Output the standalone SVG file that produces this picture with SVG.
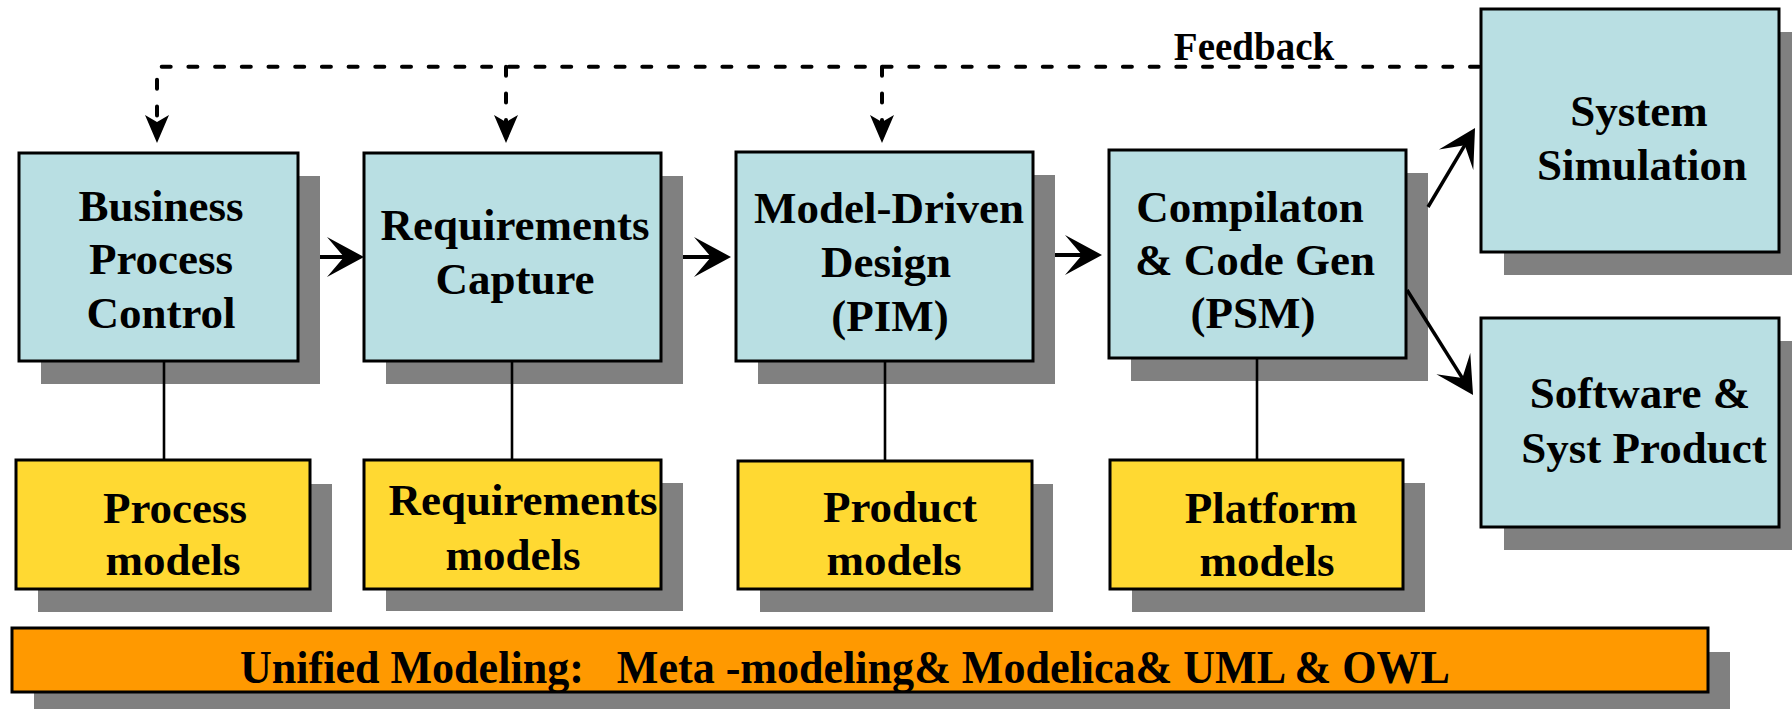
<svg xmlns="http://www.w3.org/2000/svg" width="1792" height="709" viewBox="0 0 1792 709">
<defs>
<marker id="ah" markerUnits="userSpaceOnUse" viewBox="-20 -22 44 44" markerWidth="44" markerHeight="44" refX="0" refY="0" orient="auto">
<path d="M20,0 L-17,-20 L0,0 L-17,20 Z" fill="#000"/>
</marker>
<marker id="ahd" markerUnits="userSpaceOnUse" viewBox="-10 -14 34 28" markerWidth="34" markerHeight="28" refX="0" refY="0" orient="auto">
<path d="M21,0 L-7,-12 L0,0 L-7,12 Z" fill="#000"/>
</marker>
</defs>
<style>
.sh{fill:#808080}
.blue{fill:#B9DFE3;stroke:#000;stroke-width:3}
.yel{fill:#FFD932;stroke:#000;stroke-width:3}
.org{fill:#FF9900;stroke:#000;stroke-width:3}
.t{font-family:"Liberation Serif","Times New Roman",serif;font-weight:bold;font-size:45px;fill:#000;text-anchor:middle}
.arr{stroke:#000;stroke-width:4;fill:none;marker-end:url(#ah)}
.diag{stroke:#000;stroke-width:3.5;fill:none;marker-end:url(#ah)}
.dash{stroke:#000;stroke-width:4;fill:none;stroke-dasharray:9 17.7;stroke-linecap:round;marker-end:url(#ahd)}
.vl{stroke:#000;stroke-width:2.6}
</style>
<rect width="1792" height="709" fill="#fff"/>

<g id="business">
<rect class="sh" x="41" y="176" width="279" height="208"/>
<rect class="blue" x="19" y="153" width="279" height="208"/>
<text class="t" x="161" y="221">Business</text>
<text class="t" x="161" y="274">Process</text>
<text class="t" x="161" y="328">Control</text>
</g>
<g id="requirements">
<rect class="sh" x="386" y="176" width="297" height="208"/>
<rect class="blue" x="364" y="153" width="297" height="208"/>
<text class="t" x="515" y="240">Requirements</text>
<text class="t" x="515" y="294">Capture</text>
</g>
<g id="mdd">
<rect class="sh" x="758" y="175" width="297" height="209"/>
<rect class="blue" x="736" y="152" width="297" height="209"/>
<text class="t" x="889" y="223">Model-Driven</text>
<text class="t" x="886" y="277">Design</text>
<text class="t" x="890" y="331">(PIM)</text>
</g>
<g id="compilation">
<rect class="sh" x="1131" y="173" width="297" height="208"/>
<rect class="blue" x="1109" y="150" width="297" height="208"/>
<text class="t" x="1250" y="222">Compilaton</text>
<text class="t" x="1255" y="275">&amp; Code Gen</text>
<text class="t" x="1253" y="328">(PSM)</text>
</g>
<g id="simulation">
<rect class="sh" x="1504" y="32" width="298" height="243"/>
<rect class="blue" x="1481" y="9" width="298" height="243"/>
<text class="t" x="1639" y="126">System</text>
<text class="t" x="1642" y="180">Simulation</text>
</g>
<g id="software">
<rect class="sh" x="1504" y="341" width="298" height="209"/>
<rect class="blue" x="1481" y="318" width="298" height="209"/>
<text class="t" x="1640" y="408">Software &amp;</text>
<text class="t" x="1644" y="463">Syst Product</text>
</g>
<g id="process-models">
<rect class="sh" x="38" y="484" width="294" height="128"/>
<rect class="yel" x="16" y="460" width="294" height="129"/>
<text class="t" x="175" y="523">Process</text>
<text class="t" x="173" y="575">models</text>
</g>
<g id="requirements-models">
<rect class="sh" x="386" y="483" width="297" height="128"/>
<rect class="yel" x="364" y="460" width="297" height="129"/>
<text class="t" x="523" y="515">Requirements</text>
<text class="t" x="513" y="570">models</text>
</g>
<g id="product-models">
<rect class="sh" x="760" y="484" width="293" height="128"/>
<rect class="yel" x="738" y="461" width="294" height="128"/>
<text class="t" x="900" y="522">Product</text>
<text class="t" x="894" y="575">models</text>
</g>
<g id="platform-models">
<rect class="sh" x="1132" y="483" width="293" height="129"/>
<rect class="yel" x="1110" y="460" width="293" height="129"/>
<text class="t" x="1271" y="523">Platform</text>
<text class="t" x="1267" y="576">models</text>
</g>
<g id="unified">
<rect class="sh" x="34" y="652" width="1696" height="64"/>
<rect class="org" x="12" y="628" width="1696" height="64"/>
<text class="t" x="240" y="683" style="text-anchor:start;font-size:47px;white-space:pre" xml:space="preserve" textLength="1210" lengthAdjust="spacingAndGlyphs">Unified Modeling:   Meta -modeling&amp; Modelica&amp; UML &amp; OWL</text>
</g>

<g id="connectors">
<line class="arr" x1="320" y1="257" x2="344" y2="257"/>
<line class="arr" x1="683" y1="257" x2="711" y2="257"/>
<line class="arr" x1="1055" y1="255" x2="1082" y2="255"/>
<line class="diag" x1="1428" y1="207" x2="1464.8" y2="145.2"/>
<line class="diag" x1="1407" y1="290" x2="1462.4" y2="378.1"/>
<line class="vl" x1="164" y1="361" x2="164" y2="460"/>
<line class="vl" x1="512" y1="361" x2="512" y2="460"/>
<line class="vl" x1="885" y1="361" x2="885" y2="461"/>
<line class="vl" x1="1257" y1="358" x2="1257" y2="460"/>
<path class="dash" d="M1479,66.7 H157 V122"/>
<path class="dash" d="M506,66.7 V122"/>
<path class="dash" d="M882,66.7 V122"/>
<text class="t" x="1254" y="60" style="font-size:39px">Feedback</text>
</g>
</svg>
